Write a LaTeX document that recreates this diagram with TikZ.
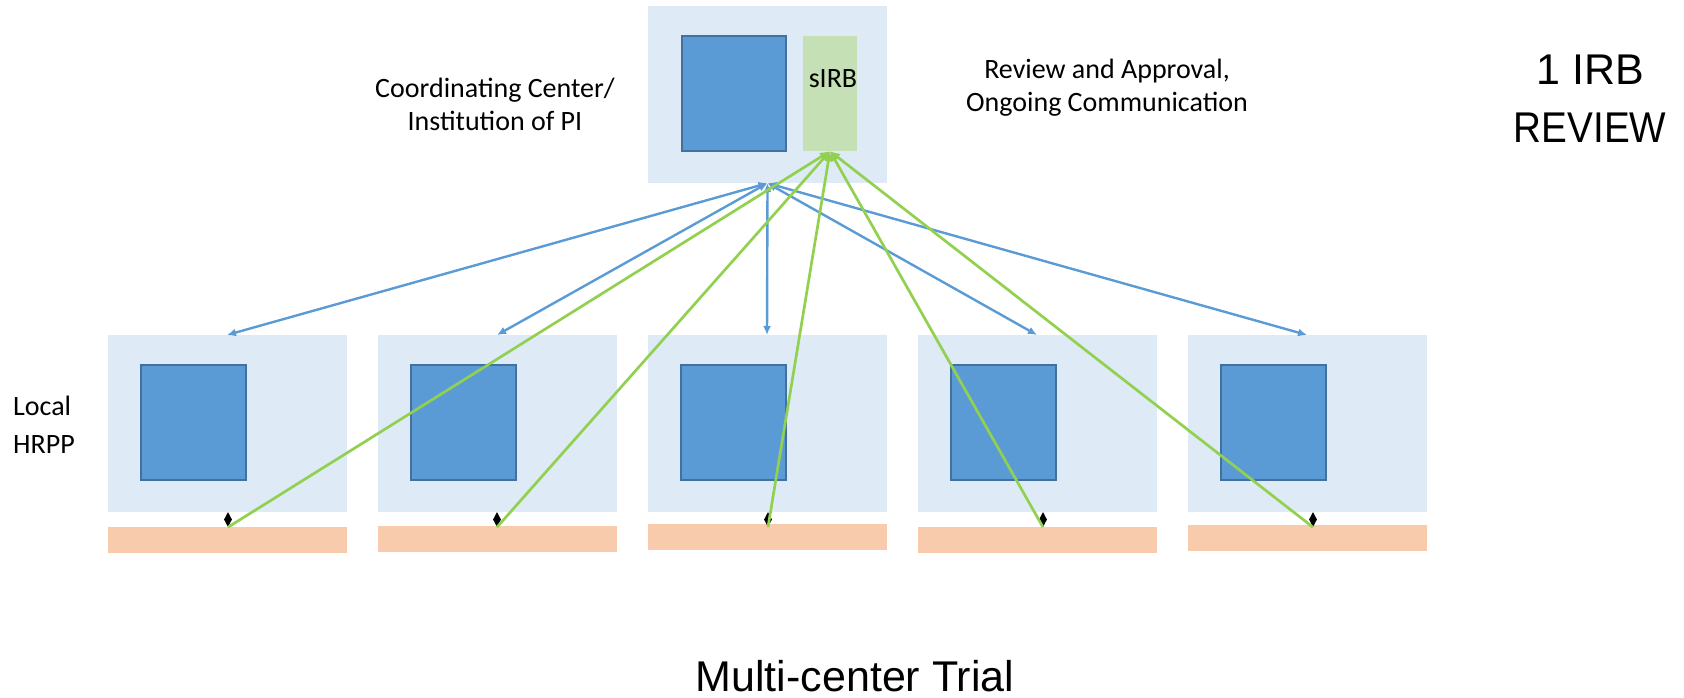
\documentclass[tikz,border=0pt]{standalone}
\usepackage{fontspec}
\setmainfont{Carlito}
\newfontfamily\headfont{Liberation Sans}
\usepackage{tikz}
\usetikzlibrary{arrows.meta}
\usetikzlibrary{shapes.geometric}

\definecolor{paleblue}{HTML}{DEEBF7}
\definecolor{siteblue}{HTML}{5B9BD5}
\definecolor{siteedge}{HTML}{41719C}
\definecolor{irbgreen}{HTML}{C5E0B4}
\definecolor{linkgreen}{HTML}{92D050}
\definecolor{barorange}{HTML}{F8CBAD}

\begin{document}
\begin{tikzpicture}[x=1pt,y=-1pt,
    panel/.style={fill=paleblue,inner sep=0pt,minimum width=239pt,minimum height=177pt},
    site/.style={fill=siteblue,draw=siteedge,line width=1.2pt,inner sep=0pt,minimum width=105pt,minimum height=115pt},
    bar/.style={fill=barorange,inner sep=0pt,minimum width=239pt,minimum height=26pt},
    marker/.style={diamond,fill=black,inner sep=0pt,minimum width=8pt,minimum height=15pt},
    bluelink/.style={draw=siteblue,line width=2.4pt,{Latex[length=9pt,width=8pt]}-{Latex[length=9pt,width=8pt]}},
    greenlink/.style={draw=linkgreen,line width=2.7pt,-{Latex[length=10pt,width=9pt]}},
    txt/.style={inner sep=0pt,font=\fontsize{28}{33}\selectfont},
    head/.style={inner sep=0pt,font=\headfont\fontsize{43}{58}\selectfont}]
\useasboundingbox (0,0) rectangle (1684,698);

% coordinating center with the single IRB
\node[panel] (cc) at (767.5,94.5) {};
\node[site,minimum width=104pt] (ccsite) at (734,93.5) {};
\node[fill=irbgreen,inner sep=0pt,minimum width=54pt,minimum height=115pt] (sirb) at (830,93.5) {};
\node[txt] (sirbtxt) at (833,79) {sIRB};

% local sites
\foreach \n/\x/\by/\dx in {1/108/540/120, 2/378/539/119, 3/648/536.5/120, 4/918/539.5/125, 5/1188/537.5/125}{
    \node[panel] (box\n) at ({\x+119.5},423.5) {};
    \node[site] (site\n) at ({\x+85.5},422.5) {};
    \node[bar] (bar\n) at ({\x+119.5},\by) {};
    \node[marker] (dia\n) at ({\x+\dx},519.5) {};
    \coordinate (tip\n) at ({\x+119},335);
}

% links
\foreach \n in {1,...,5}{
    \draw[bluelink] (cc.south) -- (tip\n);
}
\foreach \n in {1,...,5}{
    \draw[greenlink] (dia\n.south) -- (sirb.south);
}

% labels
\node[txt,align=center] (cctxt) at (495,104) {Coordinating Center/\\Institution of PI};
\node[txt,align=center] (revtxt) at (1107,88) {Review and Approval,\\Ongoing Communication};
\node[txt,align=left,anchor=west,font=\fontsize{28}{38}\selectfont] (hrpp) at (13,425) {Local\\HRPP};
\node[head,align=center] (irb) at (1590,99) {1 IRB\\\scalebox{0.9}[1]{REVIEW}};
\node[head] (trial) at (855,676) {Multi-center Trial};
\end{tikzpicture}
\end{document}
